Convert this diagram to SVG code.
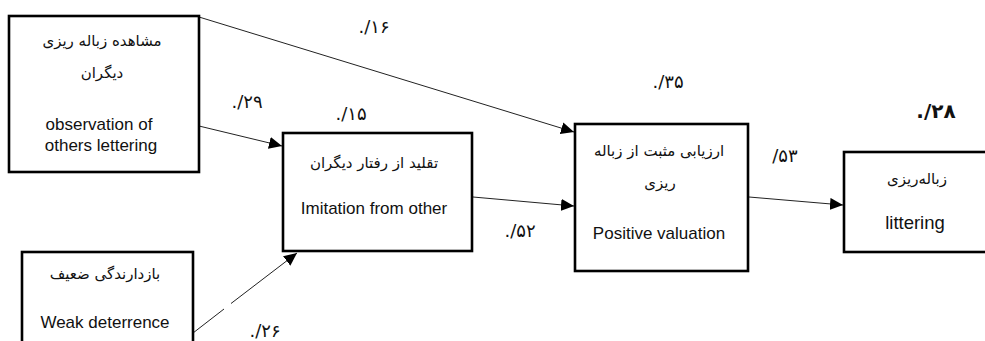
<svg xmlns="http://www.w3.org/2000/svg" width="985" height="341" viewBox="0 0 985 341">
<style>
.box{fill:#fff;stroke:#000;stroke-width:2.6}
.en{font-family:"Liberation Sans",Arial,sans-serif;font-size:17px;fill:#111;text-anchor:middle}
.fa{font-family:"DejaVu Sans","Noto Sans",sans-serif;font-size:15px;fill:#111;text-anchor:middle}
.num{font-family:"DejaVu Sans","Noto Sans",sans-serif;font-size:18px;fill:#111;text-anchor:middle}
.edge{fill:none;stroke:#222;stroke-width:1}
</style>
<defs>
<marker id="arr" markerUnits="userSpaceOnUse" markerWidth="14" markerHeight="12" refX="13" refY="6" orient="auto">
<path d="M0,0 L13,6 L0,12 z" fill="#000"/>
</marker>
</defs>
<rect width="985" height="341" fill="#fff"/>
<g id="connectors">
<line class="edge" x1="199" y1="17" x2="574" y2="132" marker-end="url(#arr)"/>
<line class="edge" x1="199" y1="126" x2="282" y2="146" marker-end="url(#arr)"/>
<line class="edge" x1="473" y1="197" x2="574" y2="206" marker-end="url(#arr)"/>
<line class="edge" x1="749" y1="197" x2="843" y2="205" marker-end="url(#arr)"/>
<path class="edge" d="M193,333 L224,309 M231,303.5 L297,253" marker-end="url(#arr)"/>
</g>
<g id="node-observation">
<rect class="box" x="9" y="16" width="190" height="156"/>
<text class="fa" x="102" y="46">مشاهده زباله ریزی</text>
<text class="fa" x="102" y="78">دیگران</text>
<text class="en" x="99" y="130">observation of</text>
<text class="en" x="101" y="151">others lettering</text>
</g>
<g id="node-deterrence">
<rect class="box" x="22" y="252" width="171" height="100"/>
<text class="fa" x="105" y="279">بازدارندگی ضعیف</text>
<text class="en" x="105" y="328">Weak deterrence</text>
</g>
<g id="node-imitation">
<rect class="box" x="283" y="133" width="189" height="118"/>
<text class="fa" x="374" y="168">تقلید از رفتار دیگران</text>
<text class="en" x="374" y="214">Imitation from other</text>
</g>
<g id="node-valuation">
<rect class="box" x="575" y="124" width="173" height="147"/>
<text class="fa" x="659" y="156">ارزیابی مثبت از زباله</text>
<text class="fa" x="660" y="188">ریزی</text>
<text class="en" x="659" y="239">Positive valuation</text>
</g>
<g id="node-littering">
<rect class="box" x="844" y="152" width="150" height="100"/>
<text class="fa" x="917" y="184">زباله‌ریزی</text>
<text class="en" x="915" y="229" style="font-size:18.5px">littering</text>
</g>
<g id="labels">
<text class="num" x="374" y="33">./۱۶</text>
<text class="num" x="247" y="108">./۲۹</text>
<text class="num" x="351" y="120">./۱۵</text>
<text class="num" x="668" y="88">./۳۵</text>
<text class="num" x="520" y="237">./۵۲</text>
<text class="num" x="785" y="162">/۵۳</text>
<text class="num" x="936" y="118" style="font-weight:bold;font-size:20px">./۲۸</text>
<text class="num" x="265" y="337">./۲۶</text>
</g>
</svg>
